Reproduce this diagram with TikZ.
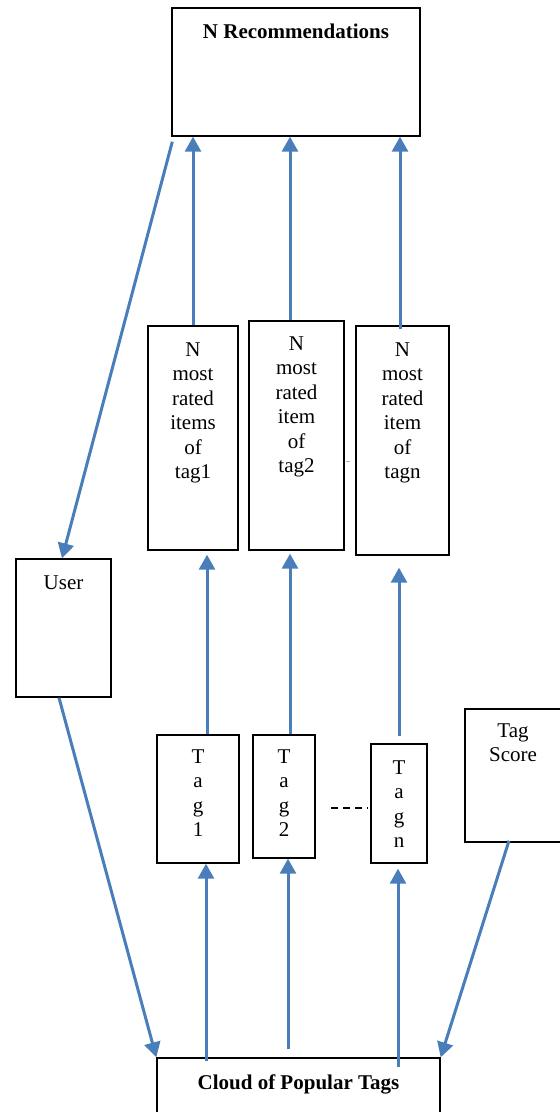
\documentclass[tikz,border=0pt]{standalone}
\usepackage{fontspec}
\setmainfont{Liberation Serif}
\usetikzlibrary{arrows.meta,positioning}
\definecolor{flowblue}{RGB}{74,126,187}

\begin{document}
\begin{tikzpicture}[x=1pt,y=-1pt,
    box/.style={draw,line width=1.4pt,rectangle,inner sep=0pt},
    intext/.style={anchor=north,inner sep=0pt,align=center,font=\fontsize{21}{24.5}\selectfont},
    flow/.style={draw=flowblue,line width=3pt,-{Triangle[width=16pt,length=15pt]}},
    dashline/.style={line width=1.8pt,dash pattern=on 7pt off 5pt}]
    \useasboundingbox (0,0) rectangle (560,1112);
    \clip (0,0) rectangle (560,1112);

    % boxes
    \node[box,minimum width=248pt,minimum height=128pt,
      label={[intext,yshift=-16pt]north:\bfseries N Recommendations}] (rec) at (296,72) {};
    \node[box,minimum width=90pt,minimum height=224pt,
      label={[intext,yshift=-17pt]north:N\\most\\rated\\items\\of\\tag1}] (items1) at (193,438) {};
    \node[box,minimum width=95pt,minimum height=229pt,
      label={[intext,yshift=-16pt]north:N\\most\\rated\\item\\of\\tag2}] (items2) at (296.5,435.5) {};
    \node[box,minimum width=93pt,minimum height=229pt,
      label={[intext,yshift=-17pt]north:N\\most\\rated\\item\\of\\tagn}] (itemsn) at (402.5,440.5) {};
    \node[box,minimum width=95pt,minimum height=138pt,
      label={[intext,yshift=-17pt]north:User}] (user) at (63.5,628) {};
    \node[box,minimum width=82pt,minimum height=128pt,
      label={[intext,yshift=-15pt]north:T\\a\\g\\1}] (tag1) at (198,799) {};
    \node[box,minimum width=62pt,minimum height=123pt,
      label={[intext,yshift=-15pt]north:T\\a\\g\\2}] (tag2) at (284,796.5) {};
    \node[box,minimum width=56pt,minimum height=119pt,
      label={[intext,yshift=-17pt]north:T\\a\\g\\n}] (tagn) at (399,803.5) {};
    \node[box,minimum width=96pt,minimum height=133pt,
      label={[intext,yshift=-15pt]north:Tag\\Score}] (score) at (513,775.5) {};
    \node[box,minimum width=283pt,minimum height=64pt,
      label={[intext,yshift=-17pt]north:\bfseries Cloud of Popular Tags}] (cloud) at (298.5,1090) {};
    \node[inner sep=0pt,font=\fontsize{8}{8}\selectfont] (gap) at (348,462) {..};

    % items to recommendations
    \draw[flow] (items1.north) -- (items1.north |- rec.south);
    \draw[flow] ([xshift=-6.5pt]items2.north) -- ([xshift=-6.5pt]items2.north |- rec.south);
    \draw[flow] ([xshift=-2.5pt,yshift=-4pt]itemsn.north) -- ([xshift=-2.5pt]itemsn.north |- rec.south);

    % tags to items
    \draw[flow] ([xshift=9pt]tag1.north) -- ([xshift=9pt,yshift=-4pt]tag1.north |- items1.south);
    \draw[flow] ([xshift=6pt]tag2.north) -- ([xshift=6pt,yshift=-3pt]tag2.north |- items2.south);
    \draw[flow] ([yshift=7pt]tagn.north) -- ([yshift=-12pt]tagn.north |- itemsn.south);
    \draw[dashline] (331,808) -- (368,808);

    % cloud to tags
    \draw[flow] ([xshift=-92.5pt,yshift=-4pt]cloud.north) -- ([xshift=-92.5pt]cloud.north |- tag1.south);
    \draw[flow] ([xshift=-10.5pt,yshift=8pt]cloud.north) -- ([xshift=-10.5pt]cloud.north |- tag2.south);
    \draw[flow] ([xshift=99.5pt,yshift=-10pt]cloud.north) -- ([xshift=99.5pt,yshift=-5pt]cloud.north |- tagn.south);

    % user and score
    \draw[flow] ([xshift=1pt,yshift=-5pt]rec.south west) -- ([xshift=-1.5pt]user.north);
    \draw[flow] ([xshift=-4.5pt]user.south) -- (cloud.north west);
    \draw[flow] ([xshift=-4pt,yshift=2pt]score.south) -- (cloud.north east);
\end{tikzpicture}
\end{document}
